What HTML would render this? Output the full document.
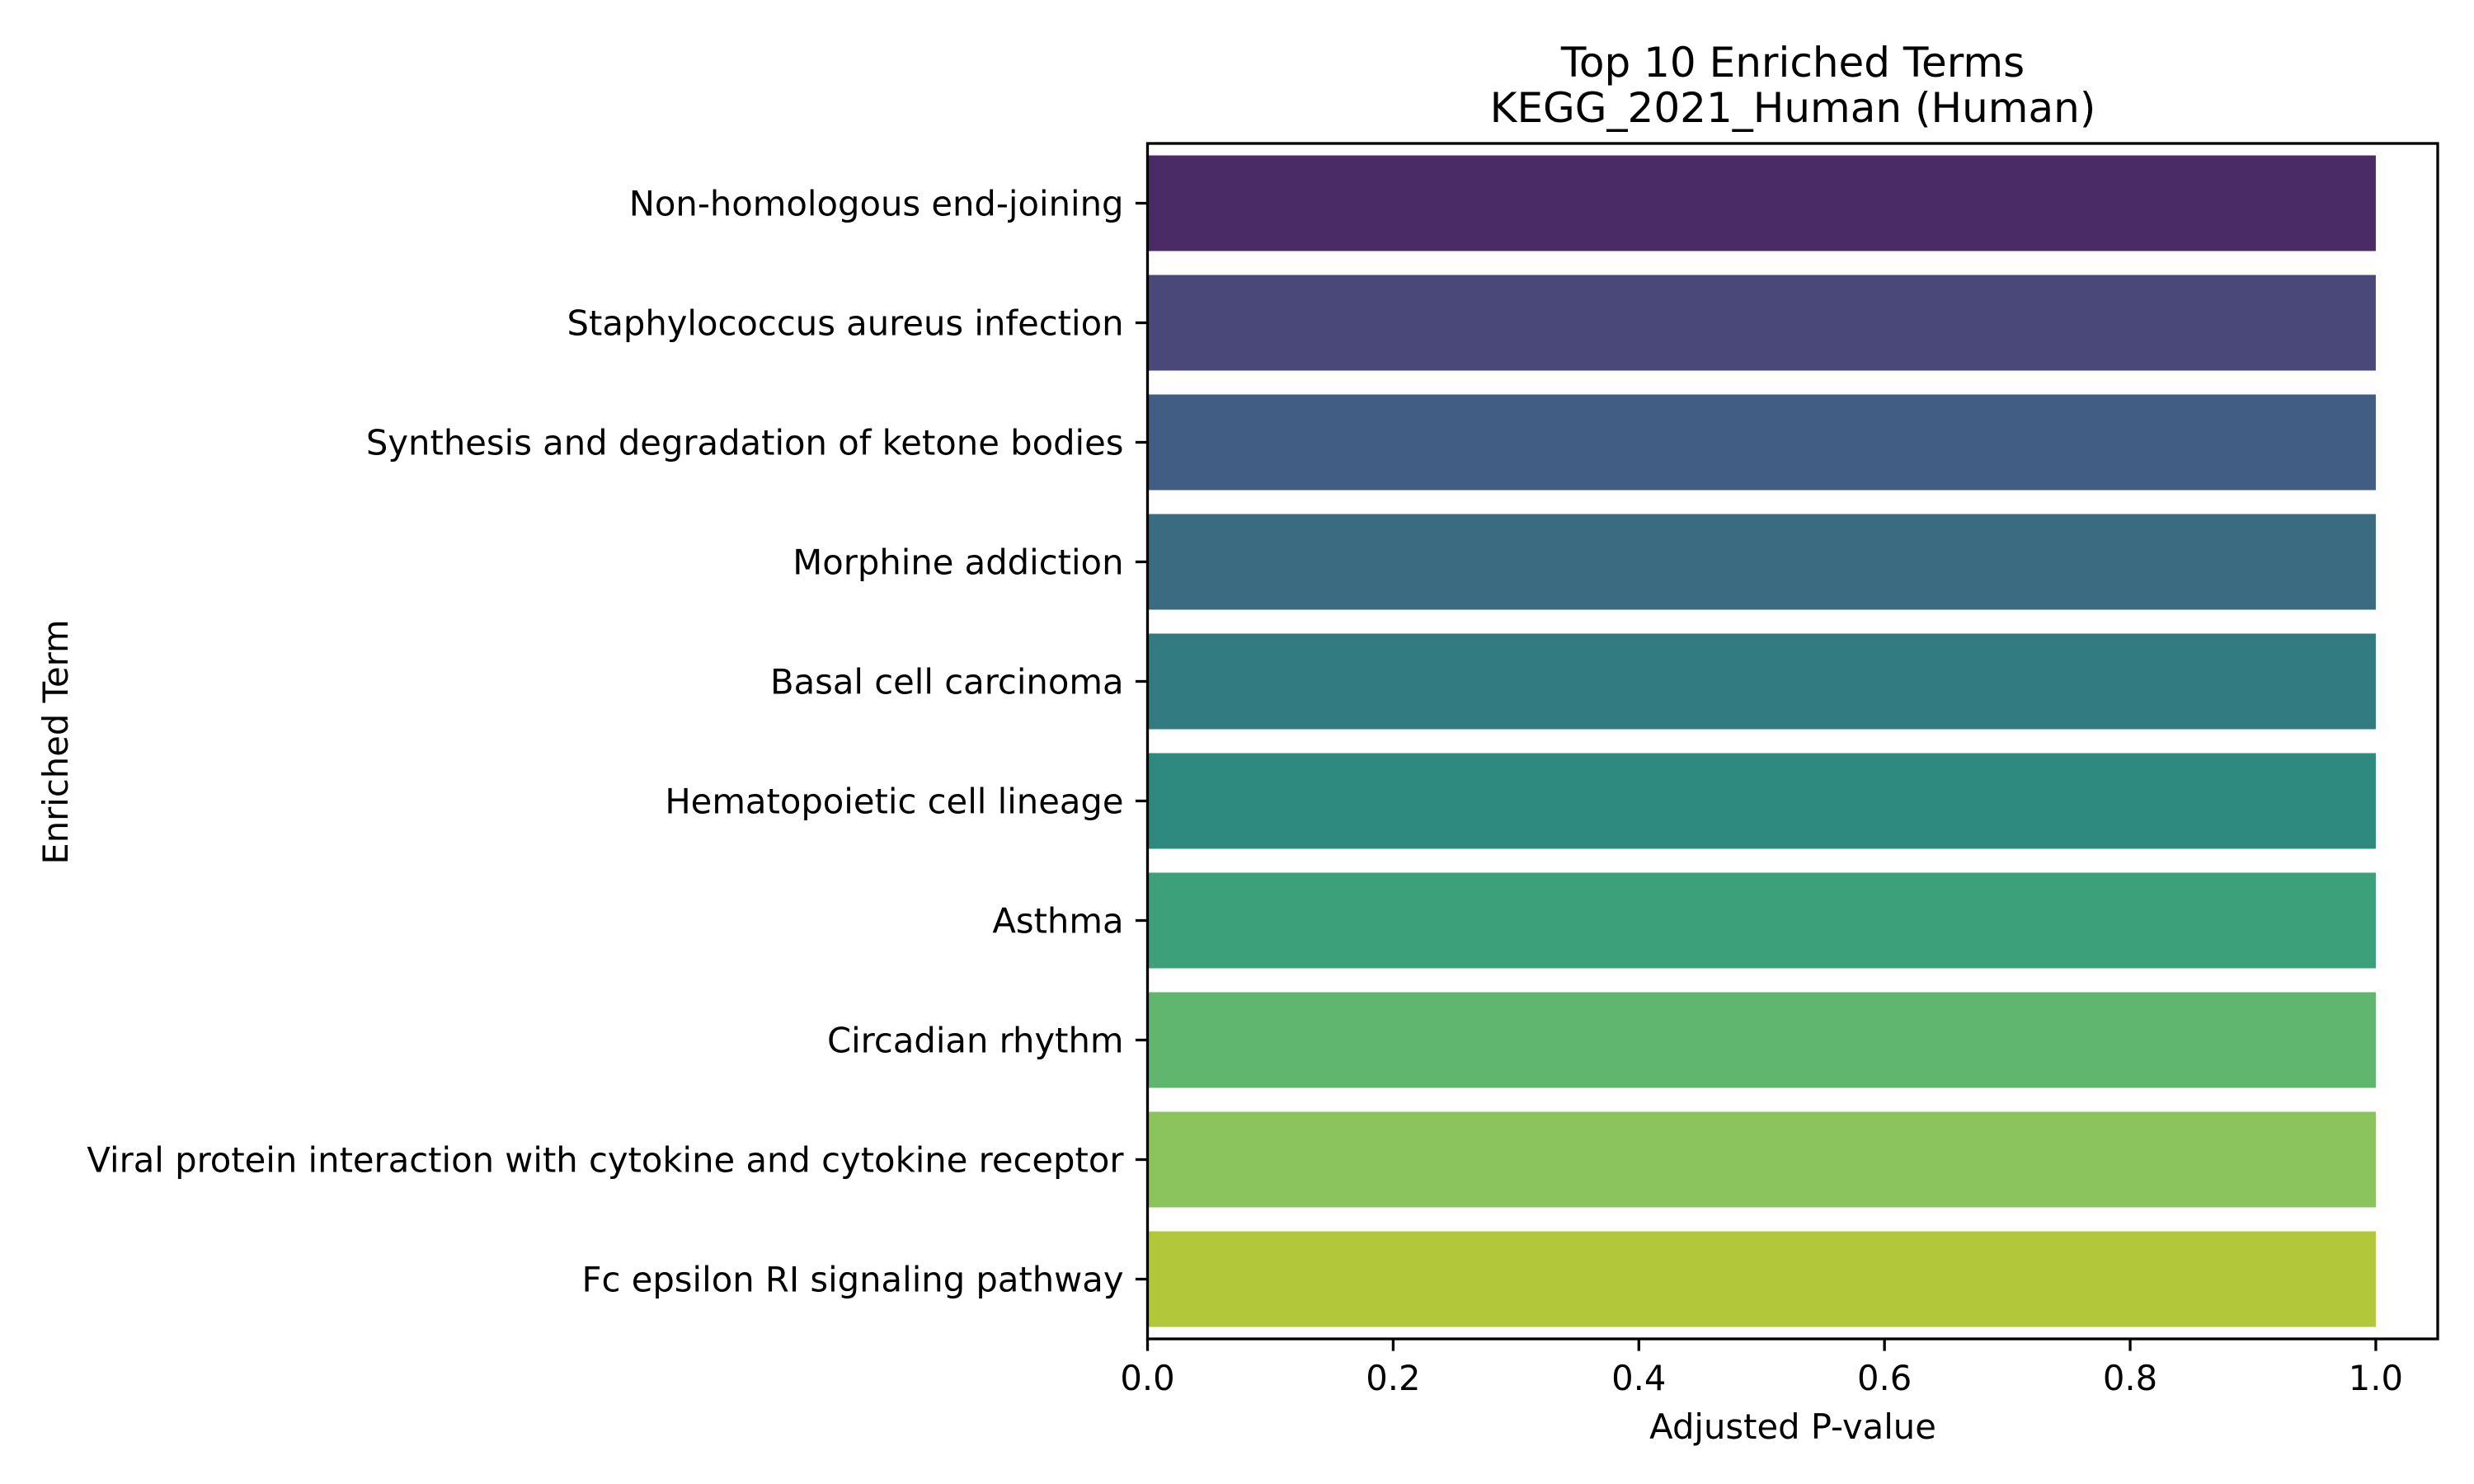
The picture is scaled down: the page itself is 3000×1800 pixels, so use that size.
<!DOCTYPE html>
<html><head><meta charset="utf-8"><style>
html,body{margin:0;padding:0;background:#fff}
svg{display:block}
text{font-family:"DejaVu Sans","Liberation Sans",sans-serif;fill:#000}
</style></head><body>
<svg id="chart" width="3000" height="1800" viewBox="0 0 3000 1800" xmlns="http://www.w3.org/2000/svg">
<rect width="3000" height="1800" fill="#fff"/>
<text x="2174" y="93" font-size="50" text-anchor="middle">Top 10 Enriched Terms</text>
<text x="2174" y="148" font-size="50" text-anchor="middle">KEGG_2021_Human (Human)</text>
<text x="2174" y="1745" font-size="41.7" text-anchor="middle">Adjusted P-value</text>
<text transform="translate(82,900) rotate(-90)" font-size="41.7" text-anchor="middle">Enriched Term</text>
<g id="bars"></g>
<g id="yticks"></g>
<g id="xticks"></g>
<rect x="1391.5" y="174" width="1564.5" height="1450" fill="none" stroke="#000" stroke-width="3.3"/>
</svg>
<script>
const categories = ["Non-homologous end-joining","Staphylococcus aureus infection","Synthesis and degradation of ketone bodies","Morphine addiction","Basal cell carcinoma","Hematopoietic cell lineage","Asthma","Circadian rhythm","Viral protein interaction with cytokine and cytokine receptor","Fc epsilon RI signaling pathway"];
const values = [1,1,1,1,1,1,1,1,1,1];
const colors = ["#4b2b66","#4a4879","#425d83","#3a6b80","#327b80","#2e8a7e","#3ca07a","#60b56f","#8bc35c","#b2c83a"];
const xTicks = [0,0.2,0.4,0.6,0.8,1.0];
const xTickLabels = ["0.0","0.2","0.4","0.6","0.8","1.0"];

const NS="http://www.w3.org/2000/svg";
const L=1391.5,R=2956,T=174,B=1624,xMin=0,xMax=1.0504;
const xs=v=>L+(v-xMin)/(xMax-xMin)*(R-L);
const band=(B-T)/categories.length;
const yc=i=>T+band*(i+0.5);
const bars=document.getElementById('bars'),yt=document.getElementById('yticks'),xt=document.getElementById('xticks');
categories.forEach((c,i)=>{
  const r=document.createElementNS(NS,'rect');
  r.setAttribute('x',xs(0));r.setAttribute('y',yc(i)-band*0.4);
  r.setAttribute('width',xs(values[i])-xs(0));r.setAttribute('height',band*0.8);
  r.setAttribute('fill',colors[i]);
  
  
  bars.appendChild(r);
  const tk=document.createElementNS(NS,'line');
  tk.setAttribute('x1',L);tk.setAttribute('x2',L-14.6);tk.setAttribute('y1',yc(i));tk.setAttribute('y2',yc(i));
  tk.setAttribute('stroke','#000');tk.setAttribute('stroke-width','3.3');
  
  
  yt.appendChild(tk);
  const t=document.createElementNS(NS,'text');
  t.setAttribute('x',L-29);t.setAttribute('y',yc(i)+15);t.setAttribute('font-size','41.7');t.setAttribute('text-anchor','end');
  t.textContent=c;
  
  
  yt.appendChild(t);
});
xTicks.forEach((v,i)=>{
  const tk=document.createElementNS(NS,'line');
  tk.setAttribute('x1',xs(v));tk.setAttribute('x2',xs(v));tk.setAttribute('y1',B);tk.setAttribute('y2',B+14.6);
  tk.setAttribute('stroke','#000');tk.setAttribute('stroke-width','3.3');
  
  
  xt.appendChild(tk);
  const t=document.createElementNS(NS,'text');
  t.setAttribute('x',xs(v));t.setAttribute('y',1686);t.setAttribute('font-size','41.7');t.setAttribute('text-anchor','middle');
  t.textContent=xTickLabels[i];
  
  
  xt.appendChild(t);
});
</script>
</body></html>
